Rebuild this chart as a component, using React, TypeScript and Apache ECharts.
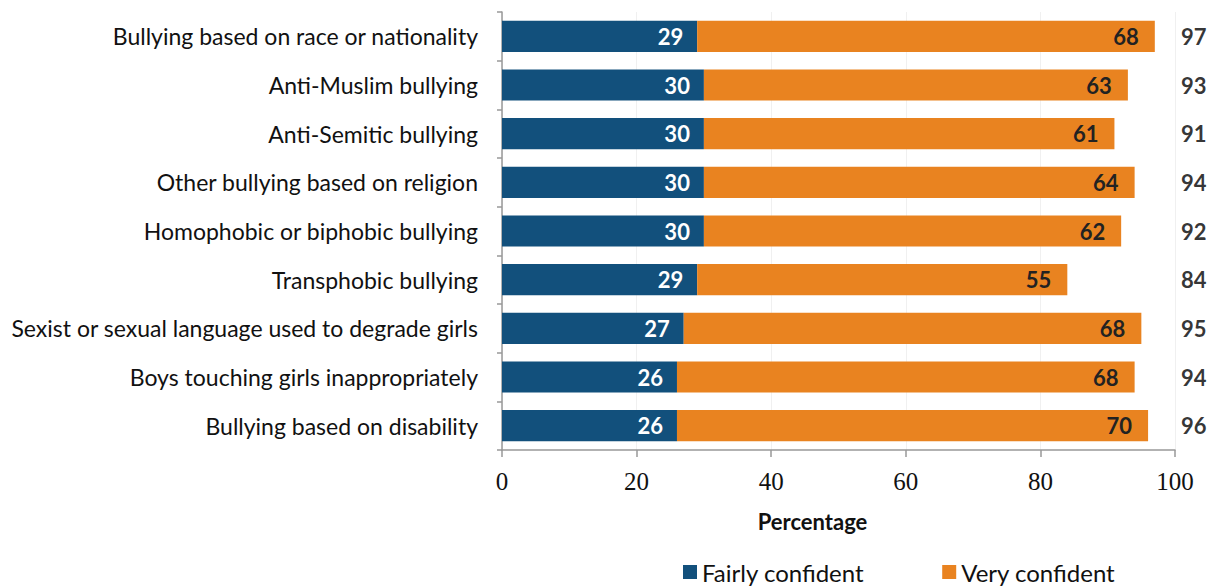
import React, { useEffect, useRef } from "react";
import * as echarts from "echarts";

const categories = [
  "Bullying based on race or nationality",
  "Anti-Muslim bullying",
  "Anti-Semitic bullying",
  "Other bullying based on religion",
  "Homophobic or biphobic bullying",
  "Transphobic bullying",
  "Sexist or sexual language used to degrade girls",
  "Boys touching girls inappropriately",
  "Bullying based on disability",
];
const fairlyConfident = [29, 30, 30, 30, 30, 29, 27, 26, 26];
const veryConfident = [68, 63, 61, 64, 62, 55, 68, 68, 70];
const xTicks = [0, 20, 40, 60, 80, 100];

const totals = fairlyConfident.map((v, i) => v + veryConfident[i]);

const FONT = "Lato, 'Open Sans', sans-serif";

export default function App() {
  const ref = useRef<HTMLDivElement>(null);
  useEffect(() => {
    if (!ref.current) return;
    const chart = echarts.init(ref.current, undefined, { renderer: "svg" });
    chart.setOption({
      animation: false,
      backgroundColor: "#ffffff",
      grid: { left: 502, right: 40, top: 12, bottom: 138, containLabel: false },
      legend: {
        left: 683,
        top: 560,
        padding: 0,
        itemWidth: 14,
        itemHeight: 14,
        itemGap: 78,
        icon: "rect",
        textStyle: { fontFamily: FONT, fontSize: 24, color: "#111" },
        data: ["Fairly confident", "Very confident"],
      },
      xAxis: {
        type: "value",
        min: xTicks[0],
        max: xTicks[xTicks.length - 1],
        interval: 20,
        name: "Percentage",
        nameLocation: "middle",
        nameGap: 60,
        nameTextStyle: {
          fontFamily: FONT,
          fontSize: 22,
          fontWeight: "bold",
          color: "#111",
          padding: [0, 52, 0, 0],
        },
        axisLine: { show: true, lineStyle: { color: "#999", width: 1.5 } },
        axisTick: { show: true, length: 7, lineStyle: { color: "#999", width: 1.5 } },
        axisLabel: { fontFamily: "'Liberation Serif', serif", fontSize: 25, color: "#111", margin: 19 },
        splitLine: { show: true, lineStyle: { color: "#f0f0f0", width: 1 } },
      },
      yAxis: {
        type: "category",
        data: categories,
        inverse: true,
        axisLine: { show: true, lineStyle: { color: "#999", width: 1.5 } },
        axisTick: { show: true, length: 5, lineStyle: { color: "#999", width: 1.5 } },
        axisLabel: { fontFamily: FONT, fontSize: 23, color: "#111", margin: 24 },
      },
      series: [
        {
          name: "Fairly confident",
          type: "bar",
          stack: "total",
          barCategoryGap: "36%",
          data: fairlyConfident,
          itemStyle: { color: "#12507C" },
          label: {
            show: true,
            position: "insideRight",
            distance: 14,
            color: "#ffffff",
            fontFamily: FONT,
            fontSize: 22,
            fontWeight: "bold",
          },
        },
        {
          name: "Very confident",
          type: "bar",
          stack: "total",
          barCategoryGap: "36%",
          data: veryConfident,
          itemStyle: { color: "#E98320" },
          label: {
            show: true,
            position: "insideRight",
            distance: 16,
            color: "#222",
            fontFamily: FONT,
            fontSize: 22,
            fontWeight: "bold",
          },
        },
        {
          name: "Total",
          type: "scatter",
          symbolSize: 0,
          silent: true,
          data: totals.map((t, i) => [100, categories[i]]),
          label: {
            show: true,
            position: "right",
            distance: 6,
            color: "#000",
            fontFamily: FONT,
            fontSize: 22,
            fontWeight: "bold",
            formatter: (p: any) => String(totals[p.dataIndex]),
          },
        },
      ],
    });
    return () => chart.dispose();
  }, []);
  return (
    <div
      ref={ref}
      style={{ position: "absolute", left: 0, top: 0, width: 1215, height: 588 }}
    />
  );
}
